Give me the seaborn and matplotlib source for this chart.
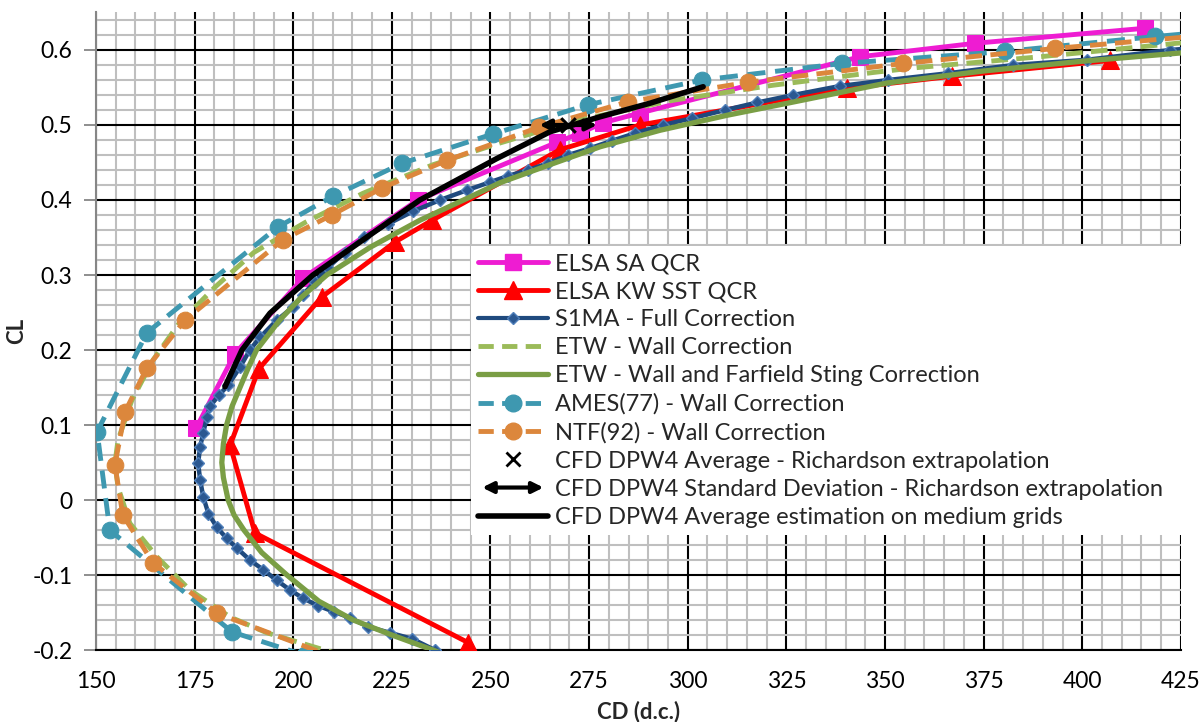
import numpy as np
import pandas as pd
import seaborn as sns
import matplotlib.pyplot as plt
from matplotlib.lines import Line2D
from matplotlib.patches import FancyArrowPatch
from matplotlib.legend_handler import HandlerBase
from matplotlib.ticker import MultipleLocator

# ---- data (CD in drag counts, CL) ----
elsa_sa_cd = [175.4, 185.2, 202.5, 231.6, 266.9, 272.7, 278.5, 287.9, 343.7, 372.9, 415.9]
elsa_sa_cl = [0.096, 0.195, 0.296, 0.400, 0.477, 0.489, 0.503, 0.516, 0.591, 0.609, 0.629]

elsa_kw_cd = [244.3, 190.3, 184.0, 191.3, 207.3, 225.8, 235.2, 267.6, 287.9, 340.4, 367.0, 407.0]
elsa_kw_cl = [-0.190, -0.044, 0.073, 0.175, 0.271, 0.344, 0.373, 0.467, 0.500, 0.549, 0.565, 0.586]

s1ma_cd = [242.0, 235.9, 230.1, 224.5, 219.0, 214.4, 210.3, 206.3, 202.5, 199.2, 195.8, 192.4,
           189.0, 185.7, 183.1, 180.6, 178.5, 177.2, 176.4, 175.9, 176.4, 177.2, 178.1, 178.9,
           181.2, 183.5, 186.5, 189.0, 191.6, 195.9, 199.9, 202.5, 205.5, 208.8, 213.0, 218.0,
           224.0, 230.4, 237.2, 244.0, 250.0, 254.4, 259.5, 264.6, 269.7, 275.2, 280.8, 286.6,
           293.7, 301.1, 309.5, 317.6, 326.7, 338.6, 350.8, 366.0, 382.5, 401.2, 422.3, 440.0]
s1ma_cl = [-0.212, -0.200, -0.185, -0.177, -0.169, -0.157, -0.149, -0.141, -0.131, -0.120, -0.107, -0.093,
           -0.080, -0.064, -0.051, -0.036, -0.018, 0.004, 0.027, 0.049, 0.071, 0.089, 0.111, 0.125,
           0.140, 0.153, 0.177, 0.200, 0.217, 0.240, 0.257, 0.274, 0.291, 0.310, 0.330, 0.350,
           0.368, 0.385, 0.400, 0.413, 0.424, 0.432, 0.440, 0.449, 0.460, 0.469, 0.479, 0.489,
           0.500, 0.509, 0.520, 0.530, 0.540, 0.552, 0.560, 0.569, 0.580, 0.587, 0.600, 0.608]

etw_wall_cd = [213.0, 193.3, 184.0, 173.8, 165.5, 158.6, 155.6, 154.8, 155.6, 159.1, 164.5, 171.0,
               180.0, 190.0, 203.0, 217.7, 235.4, 252.4, 270.9, 296.3, 321.6, 347.0, 357.1, 389.3,
               424.0, 440.0]
etw_wall_cl = [-0.208, -0.177, -0.156, -0.120, -0.076, -0.031, 0.017, 0.049, 0.080, 0.133, 0.187, 0.235,
               0.283, 0.330, 0.370, 0.409, 0.447, 0.476, 0.505, 0.533, 0.553, 0.570, 0.576, 0.591,
               0.609, 0.616]

etw_full_cd = [241.0, 235.4, 225.0, 215.2, 206.5, 198.4, 192.0, 187.5, 185.0, 183.5, 182.3, 181.9,
               182.3, 183.1, 184.5, 186.5, 188.5, 190.7, 196.6, 202.0, 208.5, 219.5, 232.1, 244.8,
               252.4, 265.0, 277.8, 293.0, 310.0, 325.2, 350.5, 375.0, 400.0, 424.8, 440.0]
etw_full_cl = [-0.212, -0.200, -0.180, -0.160, -0.135, -0.100, -0.070, -0.040, -0.020, 0.000, 0.030, 0.050,
               0.075, 0.100, 0.125, 0.150, 0.175, 0.200, 0.240, 0.270, 0.300, 0.337, 0.373, 0.404,
               0.423, 0.447, 0.471, 0.493, 0.513, 0.529, 0.556, 0.572, 0.585, 0.596, 0.602]

ames_cd = [203.0, 184.5, 153.5, 150.3, 162.9, 196.1, 210.1, 227.6, 250.6, 274.7, 303.6, 339.1,
           380.4, 418.5, 440.0]
ames_cl = [-0.207, -0.176, -0.040, 0.091, 0.223, 0.364, 0.405, 0.449, 0.488, 0.527, 0.560, 0.582,
           0.598, 0.618, 0.628]

ntf_cd = [212.0, 180.7, 164.5, 156.8, 154.8, 157.4, 162.9, 172.6, 197.4, 209.8, 222.5, 239.0,
          262.3, 284.9, 315.3, 354.6, 393.0, 432.0]
ntf_cl = [-0.213, -0.151, -0.084, -0.020, 0.047, 0.118, 0.176, 0.240, 0.347, 0.380, 0.416, 0.453,
          0.497, 0.531, 0.557, 0.582, 0.602, 0.620]

cfd_med_cd = [182.7, 187.0, 194.1, 205.0, 232.1, 251.5, 265.1, 277.8, 290.4, 303.9]
cfd_med_cl = [0.151, 0.200, 0.249, 0.300, 0.400, 0.455, 0.491, 0.511, 0.529, 0.551]

rich_cd = 269.7
rich_cl = 0.500
rich_std = 7.3

x_ticks = [150, 175, 200, 225, 250, 275, 300, 325, 350, 375, 400, 425]
y_ticks = [-0.2, -0.1, 0.0, 0.1, 0.2, 0.3, 0.4, 0.5, 0.6]
y_tick_labels = ["-0.2", "-0.1", "0", "0.1", "0.2", "0.3", "0.4", "0.5", "0.6"]

labels = ["ELSA SA QCR", "ELSA KW SST QCR", "S1MA - Full Correction", "ETW - Wall Correction",
          "ETW - Wall and Farfield Sting Correction", "AMES(77) - Wall Correction",
          "NTF(92) - Wall Correction", "CFD DPW4 Average - Richardson extrapolation",
          "CFD DPW4 Standard Deviation - Richardson extrapolation",
          "CFD DPW4 Average estimation on medium grids"]

c_mag = "#EE1CD2"
c_red = "#FF0000"
c_blue = "#1F4A7E"
c_etw = "#9BBB59"
c_etw2 = "#7A9E45"
c_teal = "#3E98B0"
c_orange = "#DC873C"

sns.set_theme(style="white")
plt.rcParams["font.family"] = ["Lato", "DejaVu Sans"]
plt.rcParams["lines.scale_dashes"] = False
plt.rcParams["axes.unicode_minus"] = False

fig, ax = plt.subplots(figsize=(12.01, 7.22), dpi=100)
fig.subplots_adjust(left=0.0799, right=0.9833, top=0.9827, bottom=0.0997)


def draw(cd, cl, **kw):
    sns.lineplot(x=cd, y=cl, sort=False, estimator=None, ax=ax, **kw)
    return ax.lines[-1]


draw(elsa_sa_cd, elsa_sa_cl, color=c_mag, lw=3.5, marker="s", ms=12, mec=c_mag, zorder=3)
draw(elsa_kw_cd, elsa_kw_cl, color=c_red, lw=3.5, marker="^", ms=13, mec=c_red, zorder=3)
draw(s1ma_cd, s1ma_cl, color=c_blue, lw=3.2, marker="D", ms=6, mfc="#2B5891", mec="#4F7FBA",
     mew=1, zorder=4)
l = draw(etw_wall_cd, etw_wall_cl, color=c_etw, lw=3.5, zorder=5)
l.set_dashes([12, 6])
draw(etw_full_cd, etw_full_cl, color=c_etw2, lw=3.8, zorder=5)
l = draw(ames_cd, ames_cl, color=c_teal, lw=3.5, marker="o", ms=12, mec=c_teal, zorder=6)
l.set_dashes([13, 7])
l = draw(ntf_cd, ntf_cl, color=c_orange, lw=3.5, marker="o", ms=12, mec=c_orange, zorder=7)
l.set_dashes([12, 6])

sns.scatterplot(x=[rich_cd], y=[rich_cl], marker="x", color="black", s=110, linewidth=2.2,
                ax=ax, zorder=9)
ax.annotate("", xy=(rich_cd - rich_std, rich_cl), xytext=(rich_cd + rich_std, rich_cl),
            arrowprops=dict(arrowstyle="<|-|>", color="black", lw=3, mutation_scale=16,
                            shrinkA=0, shrinkB=0), zorder=9)
draw(cfd_med_cd, cfd_med_cl, color="black", lw=4, zorder=10)

ax.set_xlim(150, 425)
ax.set_ylim(-0.2, 0.65)
ax.set_xticks(x_ticks)
ax.set_xticklabels([str(v) for v in x_ticks])
ax.set_yticks(y_ticks)
ax.set_yticklabels(y_tick_labels)
ax.xaxis.set_minor_locator(MultipleLocator(5))
ax.yaxis.set_minor_locator(MultipleLocator(0.02))
ax.grid(which="minor", color="#bfbfbf", lw=1.5)
ax.grid(which="major", color="black", lw=1.5)
ax.set_axisbelow(True)
ax.tick_params(axis="x", which="both", length=0, pad=15, labelsize=16.5, colors="black")
ax.tick_params(axis="y", which="major", length=9, width=1.3, color="#868686", pad=8,
               labelsize=16.5, labelcolor="black", left=True)
ax.tick_params(axis="y", which="minor", length=0)
for s in ["top", "right"]:
    ax.spines[s].set_visible(False)
ax.spines["left"].set_color("#868686")
ax.spines["left"].set_linewidth(1.5)
ax.spines["bottom"].set_color("black")
ax.spines["bottom"].set_linewidth(1.5)
ax.set_xlabel("CD (d.c.)", fontsize=16, fontweight="bold", labelpad=6)
ax.set_ylabel("CL", fontsize=16, fontweight="bold", labelpad=4)


class ArrowHandler(HandlerBase):
    def create_artists(self, legend, orig, xd, yd, width, height, fontsize, trans):
        y = -yd + height / 2
        p = FancyArrowPatch((-xd + 3, y), (-xd + width - 3, y), arrowstyle="<|-|>",
                            mutation_scale=16, lw=3, color="black", shrinkA=0, shrinkB=0,
                            transform=trans)
        return [p]


arrow_handle = FancyArrowPatch((0, 0), (1, 0))
handles = [
    Line2D([], [], color=c_mag, lw=3.5, marker="s", ms=12),
    Line2D([], [], color=c_red, lw=3.5, marker="^", ms=13),
    Line2D([], [], color=c_blue, lw=3, marker="D", ms=6, mfc="#2B5891", mec="#4F7FBA"),
    Line2D([], [], color=c_etw, lw=3.5, dashes=[11, 6]),
    Line2D([], [], color=c_etw2, lw=3.8),
    Line2D([], [], color=c_teal, lw=3.5, dashes=[11, 6], marker="o", ms=12),
    Line2D([], [], color=c_orange, lw=3.5, dashes=[11, 6], marker="o", ms=12),
    Line2D([], [], color="black", lw=0, marker="x", ms=10, mew=2),
    arrow_handle,
    Line2D([], [], color="black", lw=4),
]
leg = ax.legend(handles, labels, loc="upper left", bbox_to_anchor=(0.3456, 0.185, 0.6544, 0.4487),
                mode="expand", frameon=True, facecolor="white", edgecolor="none", fancybox=False,
                framealpha=1, fontsize=17, handlelength=2.95, borderpad=0.3, labelspacing=0.3,
                handletextpad=0.3, borderaxespad=0, handler_map={FancyArrowPatch: ArrowHandler()})
leg.set_zorder(20)

fig.savefig("out.png", dpi=100)
